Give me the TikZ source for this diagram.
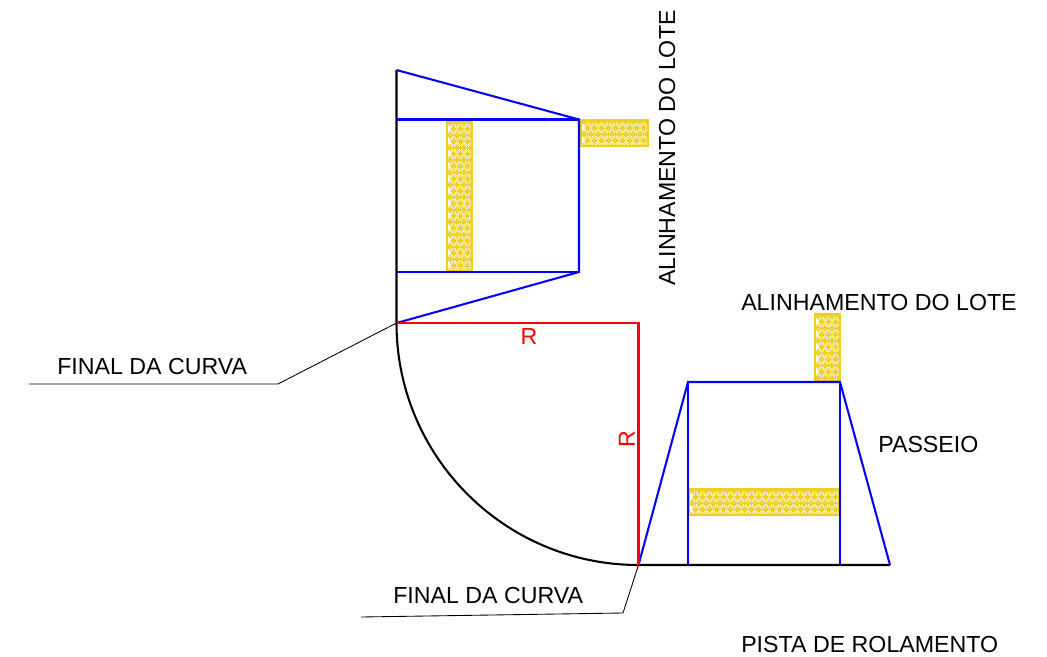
\documentclass[tikz,border=0pt]{standalone}
\usepackage{fontspec}
\setmainfont{Liberation Sans}
\definecolor{hatch}{RGB}{238,206,30}
\tikzset{
  px/.style={x=0.75pt,y=-0.75pt},
  blk/.style={draw=black,line width=1.55pt},
  blu/.style={draw=blue,line width=1.55pt},
  rd/.style={draw=red,line width=1.55pt},
  lead/.style={draw=black,line width=0.65pt},
  lbl/.style={font=\fontsize{17.4pt}{19pt}\selectfont,inner sep=0pt,anchor=base west},
  lblr/.style={font=\fontsize{17.4pt}{19pt}\selectfont,text=red,inner sep=0pt},
}
% \hatchbox{x0}{y0}{x1}{y1}
\newcommand{\hatchbox}[4]{%
  \begin{scope}
    \clip (#1,#2) rectangle (#3,#4);
    \fill[white] (#1,#2) rectangle (#3,#4);
    \pgfmathtruncatemacro{\nr}{(#4-#2)/6.2+1}
    \pgfmathtruncatemacro{\nc}{(#3-#1)/7+1}
    \foreach \r in {0,...,\nr}{
      \foreach \c in {0,...,\nc}{
        \pgfmathsetmacro{\hx}{#1+3+7*\c+3.5*mod(\r,2)}
        \pgfmathsetmacro{\hy}{#2+2+6.2*\r}
        \draw[hatch,line width=1.35pt] (\hx,\hy) circle[radius=1.95];
        \draw[hatch,line width=0.4pt] (\hx-3.5,\hy-2) -- (\hx,\hy-4.1) -- (\hx+3.5,\hy-2) -- (\hx+3.5,\hy+2);
      }
    }
  \end{scope}
  \draw[hatch,line width=1.9pt] (#1,#2) rectangle (#3,#4);
}
\begin{document}
\begin{tikzpicture}[px]
\useasboundingbox (0,0) rectangle (1047,657);
\fill[white] (0,0) rectangle (1047,657);
% coordinates
\coordinate (A) at (396.5,70);
\coordinate (B) at (396.5,119.5);
\coordinate (C) at (396.5,272);
\coordinate (D) at (396.5,323);
\coordinate (E) at (579,119.5);
\coordinate (F) at (579,272);
\coordinate (G) at (638.5,323);
\coordinate (H) at (638.5,565);
\coordinate (I) at (688,382);
\coordinate (J) at (840,382);
\coordinate (K) at (688,565);
\coordinate (L) at (840,565);
\coordinate (M) at (890,565);
\coordinate (L1) at (29,384);
\coordinate (L2) at (278,384);
\coordinate (L3) at (361,617);
\coordinate (L4) at (623,613);
% hatches
\hatchbox{447}{121}{472}{271}
\hatchbox{581}{120}{648}{146}
\hatchbox{815}{314}{840}{381}
\hatchbox{689}{489}{839}{515}
% black
\draw[blk] (A) -- (D) .. controls (396.5,456.7) and (504.8,565) .. (H) -- (M);
% blue
\draw[blu] (A) -- (E) -- (F) -- (D);
\draw[blu] (B) -- (E);
\draw[blu] (C) -- (F);
\draw[blu] (H) -- (I) -- (J) -- (M);
\draw[blu] (I) -- (K);
\draw[blu] (J) -- (L);
% red
\draw[rd] (D) -- (G) -- (H);
% leaders
\draw[lead] (L1) -- (L2) -- (D);
\draw[lead] (L3) -- (L4) -- (H);
% labels
\node[lbl] (t1) at (57,374) {FINAL DA CURVA};
\node[lbl] (t2) at (393,603) {FINAL DA CURVA};
\node[lbl] (t3) at (741,310) {ALINHAMENTO DO LOTE};
\node[lbl] (t4) at (878,452) {PASSEIO};
\node[lbl] (t5) at (741,652) {PISTA DE ROLAMENTO};
\node[lbl,rotate=90] (t6) at (675,286) {ALINHAMENTO DO LOTE};
\node[lblr] (r1) at (529,337) {R};
\node[lblr,rotate=90] (r2) at (627,439) {R};
\end{tikzpicture}
\end{document}
